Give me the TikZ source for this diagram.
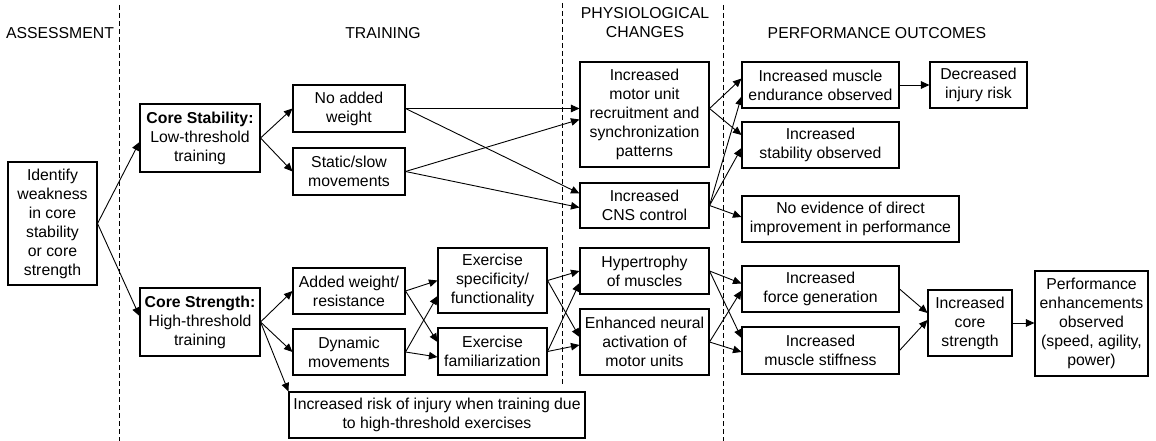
\documentclass[tikz,border=0pt]{standalone}
\usepackage{fontspec}
\setmainfont{Liberation Sans}
\usetikzlibrary{arrows.meta}
\newcommand{\diagfont}{\fontsize{15.8}{19}\selectfont}
\begin{document}
\begin{tikzpicture}[x=1pt,y=-1pt,
  box/.style={draw, line width=1.05pt, inner sep=0pt, align=center, font=\diagfont},
  hdr/.style={inner sep=0pt, align=center, font=\diagfont},
  arr/.style={line width=0.9pt, -{Triangle[length=8.5pt,width=7.5pt]}},
  sep/.style={line width=0.8pt, dash pattern=on 5pt off 3pt}]
\useasboundingbox (0,0) rectangle (1156,441);

% separators
\draw[sep] (119,5) -- (119,441);
\draw[sep] (562,3) -- (562,386);
\draw[sep] (723,5) -- (723,441);

% headers
\node[hdr] (hA) at (60,33) {ASSESSMENT};
\node[hdr] (hT) at (383,33) {TRAINING};
\node[hdr] (hP) at (645,23) {PHYSIOLOGICAL\\CHANGES};
\node[hdr] (hO) at (877,33) {PERFORMANCE OUTCOMES};

% nodes
\node[box, minimum width=89pt, minimum height=123pt] (ident) at (52.5,223.5) {Identify\\weakness\\in core\\stability\\or core\\strength};
\node[box, minimum width=120pt, minimum height=68pt] (cstab) at (200,138) {\textbf{Core Stability:}\\Low-threshold\\training};
\node[box, minimum width=120pt, minimum height=68pt] (cstr) at (200,322) {\textbf{Core Strength:}\\High-threshold\\training};
\node[box, minimum width=112pt, minimum height=47pt] (noadd) at (349,108.5) {No added\\weight};
\node[box, minimum width=112pt, minimum height=47pt] (static) at (349,171.5) {Static/slow\\movements};
\node[box, minimum width=112pt, minimum height=46pt] (added) at (349,291) {Added weight/\\resistance};
\node[box, minimum width=112pt, minimum height=46pt] (dyn) at (349,352) {Dynamic\\movements};
\node[box, minimum width=109pt, minimum height=65pt] (exspec) at (492.5,280.5) {Exercise\\specificity/\\functionality};
\node[box, minimum width=109pt, minimum height=47pt] (exfam) at (492.5,351.5) {Exercise\\familiarization};
\node[box, minimum width=296pt, minimum height=46pt] (risk) at (437,415) {Increased risk of injury when training due\\to high-threshold exercises};
\node[box, minimum width=129pt, minimum height=105pt] (motor) at (644.5,114.5) {Increased\\motor unit\\recruitment and\\synchronization\\patterns};
\node[box, minimum width=129pt, minimum height=45pt] (cns) at (644.5,205.5) {Increased\\CNS control};
\node[box, minimum width=129pt, minimum height=46pt] (hyper) at (644.5,271) {Hypertrophy\\of muscles};
\node[box, minimum width=129pt, minimum height=66pt] (neural) at (644.5,342) {Enhanced neural\\activation of\\motor units};
\node[box, minimum width=157pt, minimum height=46pt] (endur) at (820.5,85) {Increased muscle\\endurance observed};
\node[box, minimum width=97pt, minimum height=46pt] (decr) at (978.5,85) {Decreased\\injury risk};
\node[box, minimum width=157pt, minimum height=46pt] (stab) at (820.5,145) {Increased\\stability observed};
\node[box, minimum width=217pt, minimum height=46pt] (noev) at (850.5,219) {No evidence of direct\\improvement in performance};
\node[box, minimum width=157pt, minimum height=46pt] (force) at (820.5,289) {Increased\\force generation};
\node[box, minimum width=157pt, minimum height=47pt] (stiff) at (820.5,350.5) {Increased\\muscle stiffness};
\node[box, minimum width=84pt, minimum height=66pt] (inccore) at (970,323) {Increased\\core\\strength};
\node[box, minimum width=113pt, minimum height=105pt] (perf) at (1091.5,323.5) {Performance\\enhancements\\observed\\(speed, agility,\\power)};

% connectors
\draw[arr] (ident.east) -- ([yshift=-4pt]cstab.west);
\draw[arr] (ident.east) -- ([yshift=6pt]cstr.west);
\draw[arr] (cstab.east) -- (noadd.west);
\draw[arr] (cstab.east) -- (static.west);
\draw[arr] (cstr.east) -- (added.west);
\draw[arr] (cstr.east) -- (dyn.west);
\draw[arr] (cstr.east) -- (risk.north west);

\draw[arr] (noadd.east) -- (noadd.east -| motor.west);
\draw[arr] (static.east) -- ([yshift=-5pt]motor.west);
\draw[arr] (noadd.east) -- ([yshift=12pt]cns.west);
\draw[arr] (static.east) -- ([yshift=-2pt]cns.west);

\draw[arr] (added.east) -- (exspec.west);
\draw[arr] (added.east) -- ([yshift=9.5pt]exfam.west);
\draw[arr] (dyn.east) -- ([yshift=-15.5pt]exspec.west);
\draw[arr] (dyn.east) -- ([yshift=-5.5pt]exfam.west);

\draw[arr] (exspec.east) -- (hyper.west);
\draw[arr] (exspec.east) -- ([yshift=5pt]neural.west);
\draw[arr] (exfam.east) -- ([yshift=-12pt]hyper.west);
\draw[arr] (exfam.east) -- ([yshift=-3pt]neural.west);

\draw[arr] ([yshift=6pt]motor.east) -- ([yshift=6.5pt]endur.west);
\draw[arr] ([yshift=6pt]motor.east) -- ([yshift=10pt]stab.west);
\draw[arr] (cns.east) -- ([yshift=-11.5pt]endur.west);
\draw[arr] (cns.east) -- ([yshift=-3pt]stab.west);
\draw[arr] (cns.east) -- ([yshift=2pt]noev.west);
\draw[arr] (endur.east) -- (decr.west);

\draw[arr] (hyper.east) -- ([yshift=5.5pt]force.west);
\draw[arr] (hyper.east) -- ([yshift=12.5pt]stiff.west);
\draw[arr] (neural.east) -- ([yshift=-1.5pt]force.west);
\draw[arr] (neural.east) -- ([yshift=-1.5pt]stiff.west);

\draw[arr] (force.east) -- ([yshift=10pt]inccore.west);
\draw[arr] (stiff.east) -- ([yshift=3pt]inccore.west);
\draw[arr] (inccore.east) -- (inccore.east -| perf.west);
\end{tikzpicture}
\end{document}
